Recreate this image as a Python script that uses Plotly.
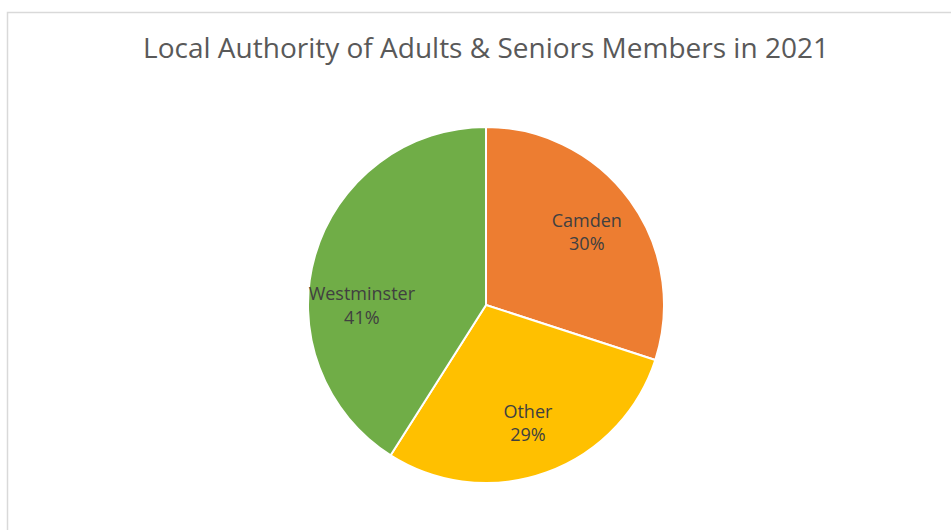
import plotly.graph_objects as go

# local authority split of adults & seniors members, 2021
authorities = ['Camden', 'Other', 'Westminster']
members_pct = [30, 29, 41]
slice_colors = ['#ED7D31', '#FFC000', '#70AD47']

W, H = 951, 530
pie_domain = dict(x=[308 / W, 664 / W], y=[1 - 483 / H, 1 - 127 / H])

fig = go.Figure()

# coloured slices
fig.add_trace(go.Pie(
    labels=authorities,
    values=members_pct,
    sort=False,
    direction='clockwise',
    rotation=0,
    marker=dict(colors=slice_colors, line=dict(color='white', width=2)),
    textinfo='none',
    hoverinfo='label+percent',
    domain=pie_domain,
    showlegend=False,
))

# transparent ring on top just to push the labels out like Excel does
fig.add_trace(go.Pie(
    labels=authorities,
    values=members_pct,
    sort=False,
    direction='clockwise',
    rotation=0,
    hole=0.4,
    marker=dict(colors=['rgba(0,0,0,0)'] * 3, line=dict(width=0)),
    textposition='inside',
    insidetextorientation='horizontal',
    texttemplate='%{label}<br>%{percent:.0%}',
    insidetextfont=dict(family='Open Sans', size=18, color='#404040'),
    hoverinfo='skip',
    domain=pie_domain,
    showlegend=False,
))

fig.update_layout(
    width=W, height=H,
    margin=dict(l=0, r=0, t=0, b=0),
    paper_bgcolor='white',
    plot_bgcolor='white',
    uniformtext=dict(minsize=18, mode='show'),
    title=dict(
        text='Local Authority of Adults & Seniors Members in 2021',
        x=486 / W, xanchor='center',
        y=1 - 48 / H, yanchor='middle',
        font=dict(family='Open Sans', size=28, color='#595959'),
    ),
    shapes=[dict(
        type='rect', xref='paper', yref='paper',
        x0=7.5 / W, x1=1.05, y0=-0.05, y1=1 - 12.5 / H,
        line=dict(color='#D9D9D9', width=1.5),
        fillcolor='rgba(0,0,0,0)',
    )],
)

# page body has a default 8px margin; drop it so pixel positions line up
fig.write_html('out.html', config={'displayModeBar': False},
               post_script="document.body.style.margin='0';")
